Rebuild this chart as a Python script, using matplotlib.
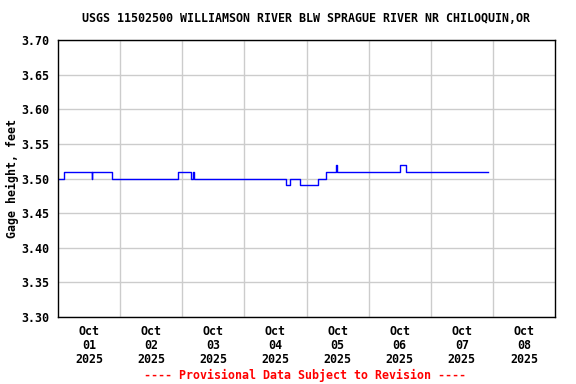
import matplotlib
matplotlib.use("Agg")
import matplotlib.pyplot as plt
from datetime import datetime, timedelta

# Step-change times (hours after 2025-10-01 00:00) and gage height values (feet)
change_hours = [0.0, 2.5, 13.0, 13.25, 21.0, 46.25, 51.25, 52.0, 52.5,
                88.0, 89.5, 93.5, 100.5, 103.5, 107.5, 107.75, 132.0, 134.5, 166.0]
gage_values = [3.50, 3.51, 3.50, 3.51, 3.50, 3.51, 3.50, 3.51, 3.50,
               3.49, 3.50, 3.49, 3.50, 3.51, 3.52, 3.51, 3.52, 3.51, 3.51]

y_ticks = [3.30, 3.35, 3.40, 3.45, 3.50, 3.55, 3.60, 3.65, 3.70]
day_labels = ["Oct\n01\n2025", "Oct\n02\n2025", "Oct\n03\n2025", "Oct\n04\n2025",
              "Oct\n05\n2025", "Oct\n06\n2025", "Oct\n07\n2025", "Oct\n08\n2025"]

title = "USGS 11502500 WILLIAMSON RIVER BLW SPRAGUE RIVER NR CHILOQUIN,OR"
ylabel = "Gage height, feet"
footer = "---- Provisional Data Subject to Revision ----"

start = datetime(2025, 10, 1)
times = [start + timedelta(hours=h) for h in change_hours]

mono = {"family": "DejaVu Sans Mono", "weight": "bold"}
fs = 8.4

fig = plt.figure(figsize=(5.76, 3.84), dpi=100)
ax = fig.add_axes([58/576, 1 - 317/384, (555 - 58)/576, (317 - 40)/384])

ax.plot(times, gage_values, drawstyle="steps-post", color="#0000ff", lw=1.0, zorder=3)

ax.set_xlim(start, start + timedelta(days=8))
ax.set_ylim(3.30, 3.70)

ax.set_yticks(y_ticks)
ax.set_yticklabels([f"{v:.2f}" for v in y_ticks], fontsize=fs, **mono)

noon_ticks = [start + timedelta(days=i, hours=12) for i in range(8)]
ax.set_xticks(noon_ticks)
ax.set_xticklabels(day_labels, fontsize=fs, linespacing=1.1, **mono)
midnights = [start + timedelta(days=i) for i in range(1, 8)]

ax.tick_params(axis="both", which="both", length=0, pad=6)
ax.grid(False)
for y in y_ticks:
    ax.axhline(y, color="#cccccc", lw=1.0, zorder=1)
for d in midnights:
    ax.axvline(d, color="#cccccc", lw=1.0, zorder=1)

for s in ax.spines.values():
    s.set_color("black")
    s.set_linewidth(1.0)
    s.set_zorder(4)

ax.set_ylabel(ylabel, fontsize=fs, labelpad=2, **mono)
fig.text(306/576, 1 - 19/384, title, ha="center", va="center", fontsize=fs, **mono)
fig.text(305/576, 1 - 375/384, footer, ha="center", va="center", fontsize=fs,
         color="#ff0000", **mono)

fig.savefig("out.png", dpi=100)
